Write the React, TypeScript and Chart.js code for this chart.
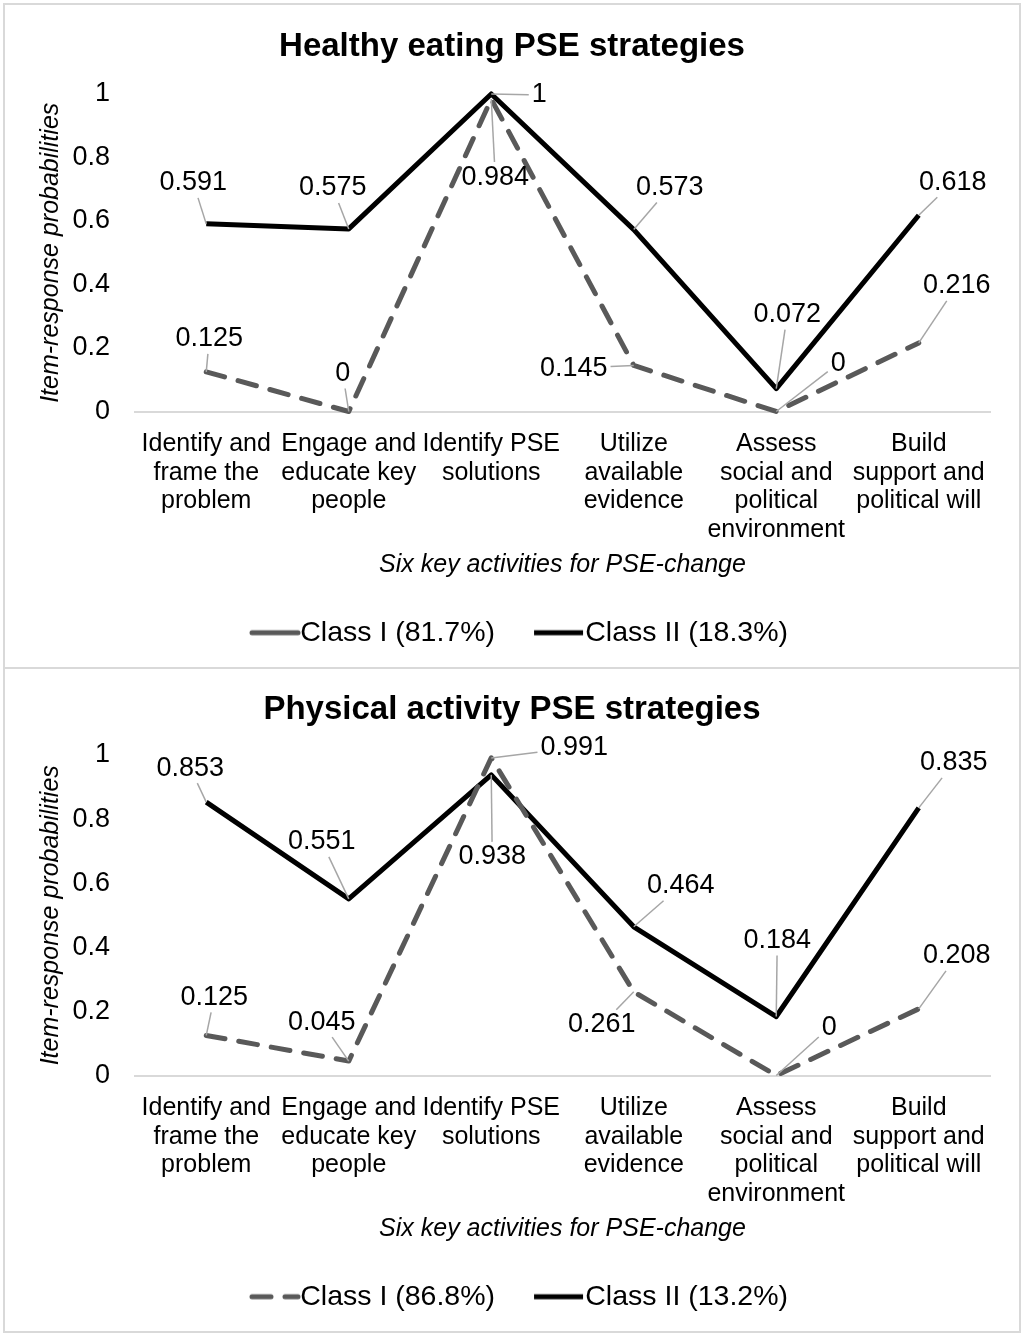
import { Chart, registerables } from "chart.js"
import { useEffect, useRef } from "react"

Chart.register(...registerables)

const FONT = "'Liberation Sans', Arial, Helvetica, sans-serif"
Chart.defaults.font.family = FONT
Chart.defaults.color = "#000"

const CATEGORIES = [
	["Identify and", "frame the", "problem"],
	["Engage and", "educate key", "people"],
	["Identify PSE", "solutions"],
	["Utilize", "available", "evidence"],
	["Assess", "social and", "political", "environment"],
	["Build", "support and", "political will"],
]
const Y_TICKS = [0, 0.2, 0.4, 0.6, 0.8, 1]

// healthy eating
const HE_CLASS_1 = [0.125, 0, 0.984, 0.145, 0, 0.216]
const HE_CLASS_2 = [0.591, 0.575, 1, 0.573, 0.072, 0.618]
const HE_LEGEND = ["Class I (81.7%)", "Class II (18.3%)"]

// physical activity
const PA_CLASS_1 = [0.125, 0.045, 0.991, 0.261, 0, 0.208]
const PA_CLASS_2 = [0.853, 0.551, 0.938, 0.464, 0.184, 0.835]
const PA_LEGEND = ["Class I (86.8%)", "Class II (13.2%)"]

// where each data label sits relative to its point (px), like dragged Excel labels
const HE_OFFSETS_1 = [[3, -33], [-6, -38], [4, 78], [-60, 3], [62, -48], [38, -57]]
const HE_OFFSETS_2 = [[-13, -41], [-16, -41], [48, 1], [36, -42], [11, -74], [34, -33]]
const PA_OFFSETS_1 = [[8, -38], [-27, -39], [83, -10], [-32, 33], [53, -48], [38, -53]]
const PA_OFFSETS_2 = [[-16, -34], [-27, -57], [1, 82], [47, -41], [1, -76], [35, -45]]

const GREY = "#595959"
const DASH = [19, 14]

const W = 1014
const H = 662
const PLOT_BOTTOM = 406.5
const LEGEND_FONT = 28.5
const LEGEND_PADDING = 26
const LEGEND_PAD_BOTTOM = 10
const LEGEND_H = LEGEND_FONT + LEGEND_PADDING + 10

// legend key drawn onto a small canvas so the line can butt up against the text
function legendGlyph(color: string, dash: number[], cap: CanvasLineCap) {
	const c = document.createElement("canvas")
	c.width = 80
	c.height = 10
	const g = c.getContext("2d")!
	g.strokeStyle = color
	g.lineWidth = 5
	g.lineCap = cap
	g.setLineDash(dash)
	g.beginPath()
	g.moveTo(cap === "round" ? 31 : 28, 5)
	g.lineTo(77, 5)
	g.stroke()
	return c
}

const dataLabels = {
	id: "dataLabels",
	afterDatasetsDraw(chart: any, _args: any, opts: any) {
		const { ctx } = chart
		ctx.save()
		ctx.font = `27px ${FONT}`
		ctx.textAlign = "center"
		ctx.textBaseline = "middle"
		chart.data.datasets.forEach((ds: any, di: number) => {
			const meta = chart.getDatasetMeta(di)
			const offsets = opts.offsets[di]
			meta.data.forEach((pt: any, i: number) => {
				const text = String(ds.data[i])
				const [dx, dy] = offsets[i]
				const cx = pt.x + dx
				const cy = pt.y + dy
				const hw = ctx.measureText(text).width / 2 + 3
				const hh = 15
				const s = Math.min(
					dx === 0 ? Infinity : hw / Math.abs(dx),
					dy === 0 ? Infinity : hh / Math.abs(dy),
				)
				if (s < 1) {
					ctx.strokeStyle = "#a6a6a6"
					ctx.lineWidth = 1.5
					ctx.setLineDash([])
					ctx.beginPath()
					ctx.moveTo(pt.x, pt.y)
					ctx.lineTo(cx - dx * s, cy - dy * s)
					ctx.stroke()
				}
				ctx.fillStyle = "#000"
				ctx.fillText(text, cx, cy)
			})
		})
		ctx.restore()
	},
}

interface LcaChartProps {
	title: string
	titleY: number
	plotTop: number
	legend: string[]
	class1: number[]
	class2: number[]
	offsets: number[][][]
	solidLegend: boolean
}

function LcaChart({ title, titleY, plotTop, legend, class1, class2, offsets, solidLegend }: LcaChartProps) {
	const canvasRef = useRef<HTMLCanvasElement>(null)

	useEffect(() => {
		if (!canvasRef.current) return
		const titleLh = 33 * 1.2
		const titleTop = titleY - titleLh / 2
		const glyphs = [
			legendGlyph(GREY, solidLegend ? [] : DASH, "round"),
			legendGlyph("#000", [], "butt"),
		]

		const chart = new Chart(canvasRef.current, {
			type: "line",
			data: {
				labels: CATEGORIES,
				datasets: [
					{
						label: legend[0],
						data: class1,
						borderColor: GREY,
						backgroundColor: GREY,
						borderWidth: 5,
						borderDash: DASH,
						borderCapStyle: "round",
						borderJoinStyle: "round",
						pointRadius: 0,
						pointStyle: glyphs[0],
						tension: 0,
						fill: false,
						clip: false,
					},
					{
						label: legend[1],
						data: class2,
						borderColor: "#000",
						backgroundColor: "#000",
						borderWidth: 5,
						borderJoinStyle: "round",
						pointRadius: 0,
						pointStyle: glyphs[1],
						tension: 0,
						fill: false,
						clip: false,
					},
				],
			},
			options: {
				responsive: false,
				animation: false,
				events: [],
				layout: { padding: { left: 0, right: 0, top: 0, bottom: LEGEND_PAD_BOTTOM } },
				plugins: {
					title: {
						display: true,
						text: title,
						color: "#000",
						font: { size: 33, weight: "bold", lineHeight: 1.2 },
						padding: { top: titleTop, bottom: plotTop - titleTop - titleLh },
					},
					legend: {
						position: "bottom",
						labels: {
							usePointStyle: true,
							pointStyleWidth: 50,
							padding: LEGEND_PADDING,
							color: "#000",
							font: { size: LEGEND_FONT },
						},
					},
					tooltip: { enabled: false },
					dataLabels: { offsets },
				} as any,
				scales: {
					x: {
						offset: true,
						grid: { display: false, drawTicks: false },
						border: { display: true, color: "#d9d9d9", width: 2 },
						ticks: {
							autoSkip: false,
							maxRotation: 0,
							minRotation: 0,
							padding: 18,
							color: "#000",
							font: { size: 25, lineHeight: 1.15 },
						},
						title: {
							display: true,
							text: "Six key activities for PSE-change",
							color: "#000",
							font: { size: 25, style: "italic", lineHeight: 1.2 },
							padding: { top: 0, bottom: 12.5 },
						},
						afterFit: (s: any) => {
							s.height = H - LEGEND_PAD_BOTTOM - LEGEND_H - PLOT_BOTTOM
						},
					},
					y: {
						min: 0,
						max: 1,
						grid: { display: false, drawTicks: false },
						border: { display: false },
						afterBuildTicks: (s: any) => {
							s.ticks = Y_TICKS.map((v) => ({ value: v }))
						},
						ticks: {
							padding: 25,
							color: "#000",
							font: { size: 27 },
							callback: (v: any) => String(v),
						},
						title: {
							display: true,
							text: "Item-response probabilities",
							color: "#000",
							font: { size: 25, style: "italic", lineHeight: 1.2 },
							padding: { top: 31, bottom: 0 },
						},
						afterFit: (s: any) => {
							s.width = 130
						},
					},
					pad: {
						type: "linear",
						position: "right",
						display: true,
						grid: { display: false },
						border: { display: false },
						ticks: { display: false },
						afterFit: (s: any) => {
							s.width = 29
						},
					},
				},
			} as any,
			plugins: [dataLabels],
		})

		return () => {
			chart.destroy()
		}
	}, [title, titleY, plotTop, legend, class1, class2, offsets, solidLegend])

	return <canvas ref={canvasRef} width={W} height={H} style={{ display: "block" }} />
}

export default function App() {
	const box = {
		position: "absolute" as const,
		left: 3,
		width: W,
		height: H,
		border: "2px solid #d9d9d9",
		background: "#fff",
	}
	return (
		<div style={{ position: "absolute", left: 0, top: 0, width: 1026, height: 1339, background: "#fff" }}>
			<div style={{ ...box, top: 3 }}>
				<LcaChart
					title="Healthy eating PSE strategies"
					titleY={42}
					plotTop={89}
					legend={HE_LEGEND}
					class1={HE_CLASS_1}
					class2={HE_CLASS_2}
					offsets={[HE_OFFSETS_1, HE_OFFSETS_2]}
					solidLegend={true}
				/>
			</div>
			<div style={{ ...box, top: 669, borderTop: "none" }}>
				<LcaChart
					title="Physical activity PSE strategies"
					titleY={41}
					plotTop={86}
					legend={PA_LEGEND}
					class1={PA_CLASS_1}
					class2={PA_CLASS_2}
					offsets={[PA_OFFSETS_1, PA_OFFSETS_2]}
					solidLegend={false}
				/>
			</div>
		</div>
	)
}
